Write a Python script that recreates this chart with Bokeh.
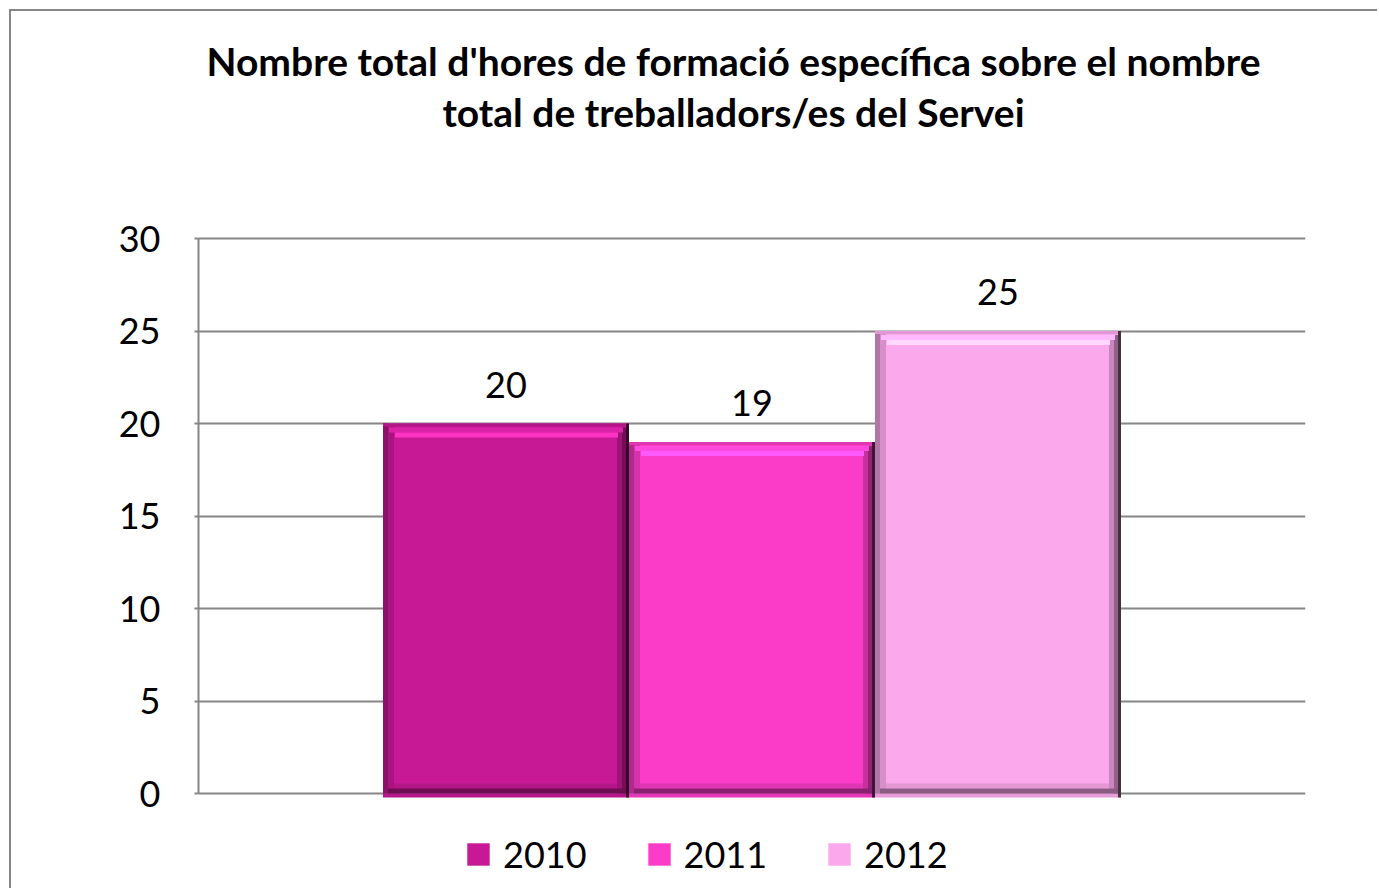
from bokeh.plotting import figure
from bokeh.models import ColumnDataSource, Range1d, Label, LabelSet, Legend, LegendItem, FixedTicker
from bokeh.embed import file_html
from bokeh.resources import INLINE
from bokeh.core.properties import value

# ---------------- data ----------------
years = ["2010", "2011", "2012"]
values = [20, 19, 25]
colors = ["#C71896", "#FA3CC8", "#FCA8EC"]
y_ticks = [0, 5, 10, 15, 20, 25, 30]
title_lines = ["Nombre total d'hores de formació específica sobre el nombre",
               "total de treballadors/es del Servei"]

# ---------------- layout constants (page pixels) ----------------
ORIG = 11                      # canvas origin on the page (margin + border)
W, H = 1379 - ORIG, 890 - ORIG
AX_L, AX_R = 198, 1305         # plot area left / right on the page
PY30, PY0 = 238, 793           # page y of value 30 and of value 0
X0, X1 = -1.25, 3.25
PXX = (X1 - X0) / (AX_R - AX_L)
PXY = 30.0 / (PY0 - PY30)
Y1 = 30 + (PY30 - ORIG) * PXY          # frame covers the whole canvas height
Y0 = -(890 - PY0) * PXY
FONT = "Lato"
GRAY = "#868686"


def px_x(px):
    return X0 + (px - AX_L) * PXX


def px_y(py):
    return 30 + (PY30 - py) * PXY


def mix(c, target, t):
    c = c.lstrip("#")
    r, g, b = int(c[0:2], 16), int(c[2:4], 16), int(c[4:6], 16)
    tr, tg, tb = (0, 0, 0) if target == "black" else (255, 255, 255)
    return "#%02x%02x%02x" % (round(r + (tr - r) * t), round(g + (tg - g) * t), round(b + (tb - b) * t))


def bright(c, k=1.15, a=22):
    c = c.lstrip("#")
    ch = [int(c[j:j + 2], 16) for j in (0, 2, 4)]
    return "#%02x%02x%02x" % tuple(min(255, round(x * k + a)) for x in ch)


p = figure(width=W, height=H, output_backend="svg", toolbar_location=None, title=None,
           x_range=Range1d(X0, X1), y_range=Range1d(Y0, Y1),
           min_border_left=AX_L - ORIG, min_border_right=1379 - AX_R,
           min_border_top=0, min_border_bottom=0,
           background_fill_color="white", border_fill_color="white")
p.styles = {"margin-left": "9px", "margin-top": "9px",
            "border-left": "2px solid " + GRAY, "border-top": "2px solid " + GRAY}
p.outline_line_color = None
p.xaxis.visible = False
p.xgrid.visible = False
p.ygrid.grid_line_color = GRAY
p.ygrid.grid_line_width = 2
p.yaxis.ticker = FixedTicker(ticks=y_ticks)
p.ygrid.ticker = FixedTicker(ticks=y_ticks)
p.yaxis.bounds = (0, 30)
p.yaxis.axis_line_color = GRAY
p.yaxis.axis_line_width = 2
p.yaxis.major_tick_line_color = GRAY
p.yaxis.major_tick_line_width = 2
p.yaxis.major_tick_out = 4
p.yaxis.major_tick_in = 0
p.yaxis.minor_tick_line_color = None
p.yaxis.major_label_standoff = 34
p.yaxis.major_label_text_font = FONT
p.yaxis.major_label_text_font_size = "36px"
p.yaxis.major_label_text_color = "black"

items = []
for i, (yr, v, c) in enumerate(zip(years, values, colors)):
    src = ColumnDataSource(dict(x=[i], top=[v]))
    r = p.vbar(x="x", top="top", width=1.0, bottom=0, source=src,
               fill_color=c, line_color=None)
    items.append(LegendItem(label=yr, renderers=[r]))
    L, R = i - 0.5, i + 0.5
    # strip just under the axis
    p.quad(left=[L], right=[R], bottom=[-4 * PXY], top=[0], fill_color=mix(c, "black", 0.08), line_color=None)
    # left edge shading
    p.quad(left=[L], right=[L + 5 * PXX], bottom=[0], top=[v], fill_color=mix(c, "black", 0.3), line_color=None)
    p.quad(left=[L + 5 * PXX], right=[L + 11 * PXX], bottom=[0], top=[v - 3 * PXY], fill_color=mix(c, "black", 0.15), line_color=None)
    # right edge shading
    p.quad(left=[R - 12 * PXX], right=[R - 7 * PXX], bottom=[0], top=[v - 8 * PXY], fill_color=mix(c, "black", 0.2), line_color=None)
    p.quad(left=[R - 7 * PXX], right=[R - 3 * PXX], bottom=[0], top=[v - 4 * PXY], fill_color=mix(c, "black", 0.42), line_color=None)
    p.quad(left=[R - 3 * PXX], right=[R], bottom=[-4 * PXY], top=[v], fill_color=mix(c, "black", 0.72), line_color=None)
    # top rim + highlight
    p.quad(left=[L], right=[R - 3 * PXX], bottom=[v - 3 * PXY], top=[v], fill_color=mix(c, "black", 0.1), line_color=None)
    p.quad(left=[L + 6 * PXX], right=[R - 6 * PXX], bottom=[v - 9 * PXY], top=[v - 4 * PXY], fill_color=bright(c, 1.05, 10), line_color=None)
    p.quad(left=[L + 12 * PXX], right=[R - 11 * PXX], bottom=[v - 14 * PXY], top=[v - 9 * PXY], fill_color=bright(c), line_color=None)
    # bottom shading
    p.quad(left=[L + 11 * PXX], right=[R - 12 * PXX], bottom=[5 * PXY], top=[10 * PXY], fill_color=mix(c, "black", 0.1), line_color=None)
    p.quad(left=[L + 5 * PXX], right=[R - 3 * PXX], bottom=[0], top=[5 * PXY], fill_color=mix(c, "black", 0.45), line_color=None)

lab_src = ColumnDataSource(dict(x=list(range(len(values))), y=values, t=[str(v) for v in values]))
p.add_layout(LabelSet(x="x", y="y", text="t", source=lab_src, text_align="center",
                      text_baseline="alphabetic", y_offset=26, text_font=value(FONT),
                      text_font_size="36px", text_color="black"))

title_baselines = [60, 111]   # page px
for line, by in zip(title_lines, title_baselines):
    p.add_layout(Label(x=px_x(733), y=px_y(by), text=line, text_align="center",
                       text_baseline="alphabetic", text_font=FONT, text_font_style="bold",
                       text_font_size="39px", text_color="black"))

legend = Legend(items=items, orientation="horizontal", location=(464 - AX_L, 14),
                padding=0, margin=0, spacing=58, label_standoff=11,
                glyph_width=28, glyph_height=28,
                label_text_font=FONT, label_text_font_size="36px", label_text_color="black",
                border_line_color=None, background_fill_alpha=0)
p.add_layout(legend, "center")

open("out.html", "w").write(file_html(p, INLINE))
